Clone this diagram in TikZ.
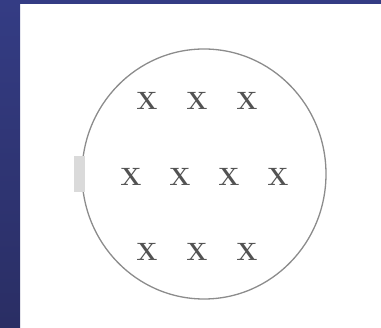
\documentclass[tikz,border=0pt]{standalone}
\definecolor{navytop}{RGB}{52,60,132}
\definecolor{navybot}{RGB}{42,46,100}
\definecolor{ringgray}{RGB}{140,140,140}
\definecolor{bargray}{RGB}{218,218,218}
\tikzset{
  fieldx/.style={font=\fontsize{25}{27}\selectfont\bfseries, text=black!68, inner sep=0pt},
}
\begin{document}
\begin{tikzpicture}[x=1pt,y=-1pt]
\useasboundingbox (0,0) rectangle (381,328);
\fill[white] (0,0) rectangle (381,328);
\shade[top color=navytop, bottom color=navybot] (0,0) rectangle (20,328);
\fill[navytop] (20,0) rectangle (381,4);
% ring
\draw[ringgray, line width=1.3pt] (204,174) ellipse [x radius=122, y radius=125];
\fill[bargray] (74,156) rectangle (85,192);
% field marks
\node[fieldx] (a1) at (147,101) {X};
\node[fieldx] (a2) at (197,101) {X};
\node[fieldx] (a3) at (247,101) {X};
\node[fieldx] (b1) at (131,177) {X};
\node[fieldx] (b2) at (180,177) {X};
\node[fieldx] (b3) at (229,177) {X};
\node[fieldx] (b4) at (278,177) {X};
\node[fieldx] (c1) at (147,252) {X};
\node[fieldx] (c2) at (197,252) {X};
\node[fieldx] (c3) at (247,252) {X};
\end{tikzpicture}
\end{document}
